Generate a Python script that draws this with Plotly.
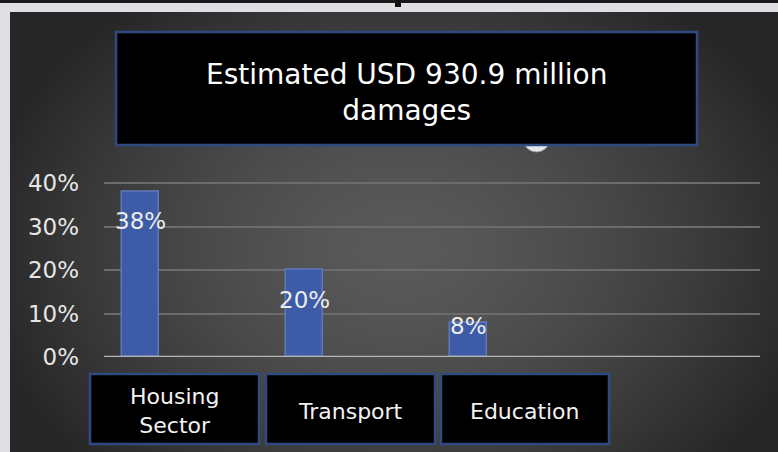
import base64
import struct
import zlib

import numpy as np
import plotly.graph_objects as go

# ---------------- data ----------------
categories = ["Housing Sector", "Transport", "Education"]
box_labels = ["Housing<br>Sector", "Transport", "Education"]
values = [0.38, 0.20, 0.08]
value_labels = ["38%", "20%", "8%"]
tick_vals = [0, 0.10, 0.20, 0.30, 0.40]
tick_labels = ["0%", "10%", "20%", "30%", "40%"]
title_text = "Estimated USD 930.9 million<br>damages"

# ---------------- geometry helpers ----------------
W, H = 778, 452


def px(x):
    return x / W


def py(y):
    return 1 - y / H


# ---------------- background gradient image ----------------
def make_png(arr):
    h, w, _ = arr.shape
    raw = b"".join(b"\x00" + arr[i].tobytes() for i in range(h))

    def chunk(tag, data):
        c = struct.pack(">I", len(data)) + tag + data
        return c + struct.pack(">I", zlib.crc32(tag + data) & 0xFFFFFFFF)

    ihdr = struct.pack(">IIBBBBB", w, h, 8, 2, 0, 0, 0)
    png = b"\x89PNG\r\n\x1a\n" + chunk(b"IHDR", ihdr) + chunk(b"IDAT", zlib.compress(raw, 9)) + chunk(b"IEND", b"")
    return "data:image/png;base64," + base64.b64encode(png).decode()


bx0, by0, bx1, by1 = 10, 12, 778, 452
scale = 4
gw, gh = (bx1 - bx0) // scale, (by1 - by0) // scale
gx = bx0 + (np.arange(gw) + 0.5) * scale
gy = by0 + (np.arange(gh) + 0.5) * scale
GX, GY = np.meshgrid(gx, gy)
r = np.sqrt(((GX - 400) / 430) ** 2 + ((GY - 250) / 320) ** 2)
r = np.clip(r, 0, 1)
inner, outer = 90, 38
val = inner - (inner - outer) * r ** 1.5
img = np.repeat(val[:, :, None], 3, axis=2).astype(np.uint8)
bg_uri = make_png(img)

# ---------------- figure ----------------
fig = go.Figure()

fig.add_trace(go.Bar(
    x=categories,
    y=values,
    offset=-0.393,
    width=0.226,
    marker=dict(color="#3d5ba6", line=dict(color="#6079bb", width=1.5)),
    hoverinfo="skip",
))

font_family = "DejaVu Sans"

annotations = []
label_shift = [-29, -30, -4]
for cat, v, lab, ys in zip(categories, values, value_labels, label_shift):
    annotations.append(dict(
        x=cat, y=v, xref="x", yref="y", text=lab, showarrow=False,
        xshift=-46, yshift=ys, yanchor="middle", xanchor="center",
        font=dict(family=font_family, size=23, color="#ececec"),
    ))

shapes = []
# top dark strip & mark
shapes.append(dict(type="rect", xref="paper", yref="paper", x0=px(0), x1=px(778), y0=py(0), y1=py(3),
                   fillcolor="#1a1a1a", line=dict(width=0), layer="above"))
shapes.append(dict(type="rect", xref="paper", yref="paper", x0=px(395), x1=px(401), y0=py(0), y1=py(7),
                   fillcolor="#111111", line=dict(width=0), layer="above"))
# zero axis line
shapes.append(dict(type="line", xref="x domain", yref="y", x0=0, x1=1, y0=0, y1=0,
                   line=dict(color="#b4b4b4", width=2.5), layer="above"))
# white semicircle under title box
shapes.append(dict(type="circle", xref="paper", yref="paper", x0=px(523), x1=px(550), y0=py(125), y1=py(152),
                   fillcolor="#e6e6e6", line=dict(color="#9a9a9a", width=1), layer="above"))
# title box
shapes.append(dict(type="rect", xref="paper", yref="paper", x0=px(116), x1=px(697), y0=py(32), y1=py(145),
                   fillcolor="#000000", line=dict(color="#2f4a80", width=2.5), layer="above"))
annotations.append(dict(
    x=px(406.5), y=py(93), xref="paper", yref="paper", text=title_text, showarrow=False,
    xanchor="center", yanchor="middle", align="center",
    font=dict(family=font_family, size=28, color="#ffffff"),
))

# category boxes
box_x = [(90, 259), (266, 435), (441, 609)]
for (x0, x1), lab in zip(box_x, box_labels):
    shapes.append(dict(type="rect", xref="paper", yref="paper", x0=px(x0), x1=px(x1), y0=py(374), y1=py(444),
                       fillcolor="#000000", line=dict(color="#2f4a80", width=2.5), layer="above"))
    annotations.append(dict(
        x=px((x0 + x1) / 2), y=py(411), xref="paper", yref="paper", text=lab, showarrow=False,
        xanchor="center", yanchor="middle", align="center",
        font=dict(family=font_family, size=22, color="#f2f2f2"),
    ))

y_top_val = 0.41
y_zero_px, y_40_px = 357, 183
y_top_px = y_zero_px - (y_zero_px - y_40_px) * y_top_val / 0.40

fig.update_layout(
    template="none",
    width=W, height=H, autosize=False,
    margin=dict(l=0, r=0, t=0, b=0, pad=0, autoexpand=False),
    paper_bgcolor="#dedee3",
    plot_bgcolor="rgba(0,0,0,0)",
    showlegend=False,
    bargap=0,
    images=[dict(source=bg_uri, xref="paper", yref="paper",
                 x=px(bx0), y=py(by0), sizex=px(bx1) - px(bx0), sizey=py(by0) - py(by1),
                 sizing="stretch", layer="below", xanchor="left", yanchor="top")],
    xaxis=dict(
        domain=[px(104), px(760)],
        type="category",
        range=[-0.5, 3.5],
        showticklabels=False, showgrid=False, zeroline=False, showline=False, ticks="",
        fixedrange=True, automargin=False,
    ),
    yaxis=dict(
        domain=[py(y_zero_px), py(y_top_px)],
        range=[0, y_top_val],
        tickmode="array", tickvals=tick_vals, ticktext=tick_labels,
        tickfont=dict(family=font_family, size=23, color="#e6e6e6"),
        ticks="", ticklabelstandoff=24,
        showgrid=True, gridcolor="#6c6c6c", gridwidth=1.5,
        zeroline=False, showline=False,
        fixedrange=True, automargin=False,
    ),
    shapes=shapes,
    annotations=annotations,
)

fig.write_html("out.html", config={"displayModeBar": False},
               post_script="document.body.style.margin='0';document.body.style.overflow='hidden';")
